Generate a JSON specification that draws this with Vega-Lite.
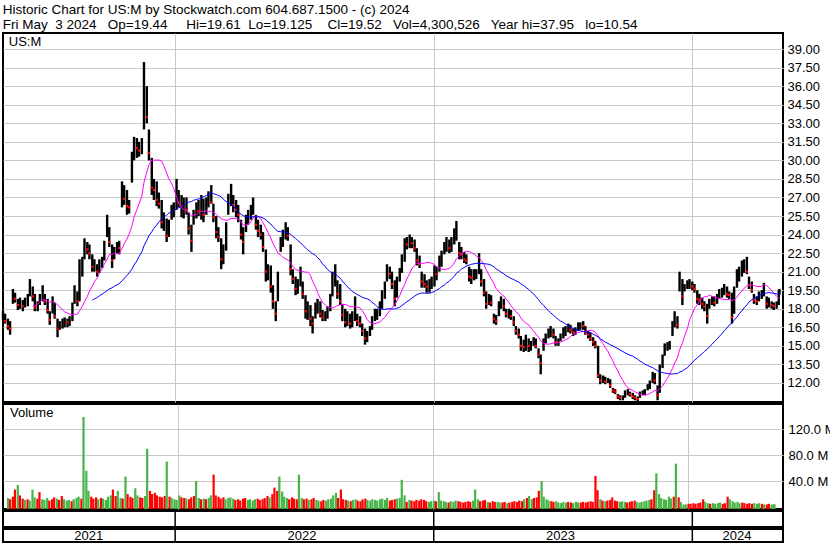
{
"$schema":"https://vega.github.io/schema/vega-lite/v6.json",
"background":"white",
"padding":{"left":0,"top":3,"right":0,"bottom":0},
"spacing":2,
"bounds":"flush",
"title":{"text":"Historic Chart for US:M by Stockwatch.com 604.687.1500 - (c) 2024","subtitle":"Fri May\u00a0 3 2024\u00a0\u00a0 Op=19.44\u00a0\u00a0\u00a0\u00a0 Hi=19.61\u00a0 Lo=19.125\u00a0\u00a0\u00a0 Cl=19.52\u00a0\u00a0 Vol=4,300,526\u00a0\u00a0 Year hi=37.95\u00a0\u00a0 lo=10.54","anchor":"start","font":"Liberation Sans","fontSize":13.5,"fontWeight":"normal","color":"black","subtitleFont":"Liberation Sans","subtitleFontSize":13.5,"subtitleColor":"black","subtitlePadding":1,"offset":1,"dx":2},
"datasets":{
"px":[
{"d":"2021-05-03","h":17.8,"l":17.1,"c":17.4,"v":14},{"d":"2021-05-06","h":17.6,"l":16.8,"c":17.0,"v":12},
{"d":"2021-05-10","h":17.2,"l":16.3,"c":16.6,"v":16},{"d":"2021-05-13","h":17.0,"l":15.9,"c":16.4,"v":27},
{"d":"2021-05-17","h":19.6,"l":18.4,"c":19.2,"v":34},{"d":"2021-05-20","h":19.3,"l":18.5,"c":18.8,"v":18},
{"d":"2021-05-24","h":18.8,"l":17.9,"c":18.3,"v":13},{"d":"2021-05-27","h":18.9,"l":18.0,"c":18.5,"v":11},
{"d":"2021-05-31","h":18.7,"l":17.8,"c":18.2,"v":12},{"d":"2021-06-03","h":18.9,"l":18.1,"c":18.6,"v":10},
{"d":"2021-06-07","h":19.2,"l":18.2,"c":19.0,"v":27},{"d":"2021-06-10","h":20.4,"l":19.0,"c":19.8,"v":15},
{"d":"2021-06-14","h":19.8,"l":18.6,"c":19.0,"v":13},{"d":"2021-06-17","h":19.2,"l":17.8,"c":18.1,"v":23},
{"d":"2021-06-21","h":18.6,"l":17.8,"c":18.3,"v":12},{"d":"2021-06-24","h":19.2,"l":18.3,"c":18.9,"v":11},
{"d":"2021-06-28","h":19.9,"l":18.6,"c":19.1,"v":14},{"d":"2021-07-01","h":19.2,"l":18.3,"c":18.6,"v":10},
{"d":"2021-07-05","h":18.8,"l":17.6,"c":17.9,"v":12},{"d":"2021-07-08","h":17.8,"l":16.7,"c":17.1,"v":15},
{"d":"2021-07-12","h":19.0,"l":17.6,"c":18.6,"v":13},{"d":"2021-07-15","h":18.5,"l":17.2,"c":17.4,"v":11},
{"d":"2021-07-19","h":17.2,"l":15.7,"c":16.4,"v":17},{"d":"2021-07-22","h":17.0,"l":16.3,"c":16.6,"v":12},
{"d":"2021-07-26","h":17.2,"l":16.4,"c":16.8,"v":10},{"d":"2021-07-29","h":17.3,"l":16.5,"c":17.0,"v":11},
{"d":"2021-08-02","h":17.2,"l":16.5,"c":16.9,"v":9},{"d":"2021-08-05","h":17.4,"l":16.6,"c":17.1,"v":12},
{"d":"2021-08-09","h":18.5,"l":17.0,"c":18.3,"v":14},{"d":"2021-08-12","h":19.9,"l":18.4,"c":19.5,"v":16},
{"d":"2021-08-16","h":19.4,"l":18.2,"c":18.6,"v":13},{"d":"2021-08-19","h":22.0,"l":18.6,"c":21.6,"v":139},
{"d":"2021-08-23","h":22.2,"l":20.6,"c":21.9,"v":56},{"d":"2021-08-26","h":23.7,"l":22.0,"c":23.2,"v":25},
{"d":"2021-08-30","h":23.4,"l":22.4,"c":22.8,"v":16},{"d":"2021-09-02","h":23.2,"l":22.0,"c":22.5,"v":13},
{"d":"2021-09-06","h":22.4,"l":21.0,"c":21.4,"v":15},{"d":"2021-09-09","h":22.0,"l":21.0,"c":21.6,"v":12},
{"d":"2021-09-13","h":21.6,"l":20.6,"c":21.0,"v":14},{"d":"2021-09-16","h":22.0,"l":20.9,"c":21.6,"v":13},
{"d":"2021-09-20","h":22.2,"l":21.3,"c":21.9,"v":11},{"d":"2021-09-23","h":23.5,"l":21.9,"c":23.2,"v":16},
{"d":"2021-09-27","h":25.6,"l":23.8,"c":24.9,"v":18},{"d":"2021-09-30","h":24.6,"l":23.0,"c":23.4,"v":27},
{"d":"2021-10-04","h":23.2,"l":21.3,"c":21.9,"v":17},{"d":"2021-10-07","h":23.0,"l":22.0,"c":22.6,"v":25},
{"d":"2021-10-11","h":23.4,"l":22.5,"c":23.0,"v":14},{"d":"2021-10-14","h":23.5,"l":22.4,"c":22.9,"v":13},
{"d":"2021-10-18","h":28.3,"l":26.2,"c":27.6,"v":47},{"d":"2021-10-21","h":28.0,"l":26.4,"c":26.9,"v":20},
{"d":"2021-10-25","h":27.6,"l":25.6,"c":26.3,"v":16},{"d":"2021-10-28","h":26.8,"l":25.7,"c":26.2,"v":14},
{"d":"2021-11-01","h":30.7,"l":28.2,"c":30.2,"v":29},{"d":"2021-11-04","h":31.9,"l":30.0,"c":31.4,"v":18},
{"d":"2021-11-08","h":31.8,"l":30.2,"c":31.0,"v":15},{"d":"2021-11-11","h":31.5,"l":30.3,"c":30.8,"v":14},
{"d":"2021-11-15","h":31.8,"l":30.5,"c":31.5,"v":17},{"d":"2021-11-18","h":37.95,"l":32.5,"c":36.5,"v":90},
{"d":"2021-11-22","h":36.0,"l":33.0,"c":33.5,"v":25},{"d":"2021-11-25","h":32.5,"l":30.0,"c":30.6,"v":20},
{"d":"2021-11-29","h":30.2,"l":27.2,"c":27.8,"v":22},{"d":"2021-12-02","h":28.5,"l":26.8,"c":27.6,"v":18},
{"d":"2021-12-06","h":28.3,"l":26.3,"c":26.8,"v":16},{"d":"2021-12-09","h":27.4,"l":26.1,"c":26.5,"v":15},
{"d":"2021-12-13","h":26.8,"l":24.5,"c":25.0,"v":17},{"d":"2021-12-16","h":25.8,"l":24.3,"c":25.4,"v":70},
{"d":"2021-12-20","h":25.3,"l":23.4,"c":23.9,"v":16},{"d":"2021-12-23","h":25.2,"l":23.8,"c":24.8,"v":14},
{"d":"2021-12-27","h":26.4,"l":25.2,"c":25.9,"v":12},{"d":"2021-12-30","h":26.6,"l":25.4,"c":26.0,"v":11},
{"d":"2022-01-03","h":28.5,"l":26.0,"c":27.4,"v":18},{"d":"2022-01-06","h":27.6,"l":26.2,"c":26.6,"v":15},
{"d":"2022-01-10","h":27.2,"l":25.4,"c":26.3,"v":14},{"d":"2022-01-13","h":27.0,"l":25.3,"c":26.4,"v":13},
{"d":"2022-01-17","h":27.0,"l":25.6,"c":26.0,"v":12},{"d":"2022-01-20","h":25.8,"l":24.0,"c":24.5,"v":15},
{"d":"2022-01-24","h":24.8,"l":22.6,"c":23.5,"v":17},{"d":"2022-01-27","h":26.0,"l":24.8,"c":25.6,"v":40},
{"d":"2022-01-31","h":26.6,"l":25.3,"c":26.1,"v":14},{"d":"2022-02-03","h":26.8,"l":25.5,"c":25.9,"v":12},
{"d":"2022-02-07","h":27.2,"l":25.2,"c":26.4,"v":13},{"d":"2022-02-10","h":26.9,"l":25.0,"c":25.6,"v":12},
{"d":"2022-02-14","h":27.0,"l":25.6,"c":26.5,"v":14},{"d":"2022-02-17","h":27.5,"l":26.2,"c":27.0,"v":18},
{"d":"2022-02-21","h":28.0,"l":26.5,"c":26.6,"v":50},{"d":"2022-02-24","h":26.5,"l":25.0,"c":25.4,"v":18},
{"d":"2022-02-28","h":25.5,"l":23.7,"c":24.2,"v":16},{"d":"2022-03-03","h":24.6,"l":23.4,"c":23.8,"v":13},
{"d":"2022-03-07","h":23.7,"l":21.2,"c":22.0,"v":15},{"d":"2022-03-10","h":23.2,"l":21.6,"c":22.8,"v":12},
{"d":"2022-03-14","h":25.0,"l":22.7,"c":24.6,"v":14},{"d":"2022-03-17","h":27.3,"l":25.6,"c":26.8,"v":15},
{"d":"2022-03-21","h":28.1,"l":26.3,"c":27.1,"v":13},{"d":"2022-03-24","h":27.2,"l":25.8,"c":26.4,"v":11},
{"d":"2022-03-28","h":26.8,"l":25.4,"c":26.0,"v":12},{"d":"2022-03-31","h":26.4,"l":25.0,"c":25.6,"v":10},
{"d":"2022-04-04","h":25.2,"l":23.6,"c":24.0,"v":13},{"d":"2022-04-07","h":24.6,"l":22.4,"c":23.4,"v":14},
{"d":"2022-04-11","h":25.6,"l":24.2,"c":25.1,"v":11},{"d":"2022-04-14","h":26.0,"l":24.8,"c":25.6,"v":12},
{"d":"2022-04-18","h":26.4,"l":25.2,"c":25.9,"v":10},{"d":"2022-04-21","h":27.0,"l":25.6,"c":26.3,"v":12},
{"d":"2022-04-25","h":25.6,"l":24.4,"c":24.8,"v":13},{"d":"2022-04-28","h":25.2,"l":23.8,"c":24.3,"v":11},
{"d":"2022-05-02","h":24.8,"l":23.6,"c":24.0,"v":12},{"d":"2022-05-05","h":24.2,"l":22.6,"c":23.0,"v":14},
{"d":"2022-05-09","h":22.8,"l":20.2,"c":21.0,"v":17},{"d":"2022-05-12","h":21.6,"l":20.3,"c":21.2,"v":15},
{"d":"2022-05-16","h":21.5,"l":19.3,"c":19.8,"v":20},{"d":"2022-05-19","h":19.9,"l":18.0,"c":18.6,"v":30},
{"d":"2022-05-23","h":18.6,"l":17.0,"c":17.6,"v":25},{"d":"2022-05-26","h":21.0,"l":18.6,"c":20.6,"v":47},
{"d":"2022-05-30","h":23.8,"l":22.6,"c":23.3,"v":24},{"d":"2022-06-02","h":24.4,"l":23.0,"c":23.7,"v":16},
{"d":"2022-06-06","h":25.0,"l":23.6,"c":24.5,"v":14},{"d":"2022-06-09","h":24.6,"l":23.5,"c":23.9,"v":12},
{"d":"2022-06-13","h":23.2,"l":20.7,"c":21.2,"v":15},{"d":"2022-06-16","h":21.2,"l":20.0,"c":20.4,"v":13},
{"d":"2022-06-20","h":20.6,"l":19.1,"c":19.6,"v":12},{"d":"2022-06-23","h":20.4,"l":19.2,"c":20.0,"v":50},
{"d":"2022-06-27","h":21.4,"l":19.8,"c":20.6,"v":14},{"d":"2022-06-30","h":20.2,"l":18.8,"c":19.2,"v":12},
{"d":"2022-07-04","h":19.1,"l":17.2,"c":17.8,"v":13},{"d":"2022-07-07","h":18.6,"l":17.1,"c":17.9,"v":11},
{"d":"2022-07-11","h":18.3,"l":16.6,"c":17.2,"v":12},{"d":"2022-07-14","h":17.4,"l":16.0,"c":16.8,"v":14},
{"d":"2022-07-18","h":18.5,"l":17.2,"c":18.1,"v":11},{"d":"2022-07-21","h":18.8,"l":17.6,"c":18.3,"v":10},
{"d":"2022-07-25","h":18.6,"l":17.3,"c":17.6,"v":9},{"d":"2022-07-28","h":17.9,"l":17.0,"c":17.3,"v":11},
{"d":"2022-08-01","h":17.8,"l":17.0,"c":17.5,"v":10},{"d":"2022-08-04","h":18.2,"l":17.2,"c":17.8,"v":12},
{"d":"2022-08-08","h":19.2,"l":17.8,"c":18.8,"v":13},{"d":"2022-08-11","h":21.0,"l":19.0,"c":20.4,"v":18},
{"d":"2022-08-15","h":21.6,"l":19.8,"c":20.5,"v":22},{"d":"2022-08-18","h":20.3,"l":18.8,"c":19.2,"v":14},
{"d":"2022-08-22","h":20.0,"l":18.3,"c":18.6,"v":27},{"d":"2022-08-25","h":18.4,"l":17.0,"c":17.5,"v":12},
{"d":"2022-08-29","h":18.0,"l":16.5,"c":16.9,"v":11},{"d":"2022-09-01","h":17.8,"l":16.6,"c":17.3,"v":10},
{"d":"2022-09-05","h":17.6,"l":16.4,"c":16.8,"v":9},{"d":"2022-09-08","h":17.8,"l":16.5,"c":17.4,"v":11},
{"d":"2022-09-12","h":19.0,"l":17.0,"c":17.6,"v":12},{"d":"2022-09-15","h":17.6,"l":16.6,"c":17.0,"v":10},
{"d":"2022-09-19","h":17.4,"l":16.5,"c":16.8,"v":9},{"d":"2022-09-22","h":16.8,"l":15.8,"c":16.2,"v":12},
{"d":"2022-09-26","h":16.4,"l":15.1,"c":15.6,"v":13},{"d":"2022-09-29","h":16.2,"l":15.3,"c":15.8,"v":11},
{"d":"2022-10-03","h":16.6,"l":15.8,"c":16.3,"v":10},{"d":"2022-10-06","h":17.4,"l":16.3,"c":17.0,"v":12},
{"d":"2022-10-10","h":18.0,"l":17.0,"c":17.6,"v":11},{"d":"2022-10-13","h":18.0,"l":17.1,"c":17.8,"v":10},
{"d":"2022-10-17","h":18.6,"l":17.4,"c":18.2,"v":12},{"d":"2022-10-20","h":19.5,"l":18.0,"c":19.2,"v":13},
{"d":"2022-10-24","h":20.2,"l":18.8,"c":19.8,"v":11},{"d":"2022-10-27","h":21.6,"l":20.2,"c":21.0,"v":14},
{"d":"2022-10-31","h":21.4,"l":20.4,"c":20.8,"v":10},{"d":"2022-11-03","h":21.0,"l":19.6,"c":20.0,"v":11},
{"d":"2022-11-07","h":20.3,"l":18.2,"c":18.8,"v":12},{"d":"2022-11-10","h":20.6,"l":18.9,"c":20.2,"v":13},
{"d":"2022-11-14","h":21.3,"l":20.2,"c":21.0,"v":14},{"d":"2022-11-17","h":22.4,"l":20.9,"c":22.0,"v":42},
{"d":"2022-11-21","h":23.7,"l":21.8,"c":23.3,"v":18},{"d":"2022-11-24","h":23.8,"l":22.8,"c":23.2,"v":8},
{"d":"2022-11-28","h":24.0,"l":22.9,"c":23.4,"v":11},{"d":"2022-12-01","h":23.8,"l":22.9,"c":23.3,"v":10},
{"d":"2022-12-05","h":23.6,"l":22.6,"c":22.9,"v":9},{"d":"2022-12-08","h":22.9,"l":21.5,"c":21.9,"v":11},
{"d":"2022-12-12","h":22.3,"l":21.3,"c":21.6,"v":10},{"d":"2022-12-15","h":21.0,"l":19.7,"c":20.2,"v":12},
{"d":"2022-12-19","h":20.8,"l":19.7,"c":20.0,"v":11},{"d":"2022-12-22","h":20.3,"l":19.3,"c":19.8,"v":9},
{"d":"2022-12-26","h":20.4,"l":19.3,"c":19.9,"v":8},{"d":"2022-12-29","h":20.6,"l":19.6,"c":20.2,"v":9},
{"d":"2023-01-02","h":21.5,"l":19.8,"c":21.0,"v":10},{"d":"2023-01-05","h":21.4,"l":20.3,"c":20.8,"v":9},
{"d":"2023-01-09","h":22.3,"l":21.0,"c":21.8,"v":23},{"d":"2023-01-12","h":22.7,"l":21.4,"c":22.2,"v":10},
{"d":"2023-01-16","h":23.4,"l":22.4,"c":23.0,"v":9},{"d":"2023-01-19","h":23.8,"l":22.6,"c":23.2,"v":8},
{"d":"2023-01-23","h":23.6,"l":22.5,"c":22.9,"v":7},{"d":"2023-01-26","h":23.8,"l":22.6,"c":23.4,"v":9},
{"d":"2023-01-30","h":24.5,"l":23.2,"c":24.0,"v":8},{"d":"2023-02-02","h":25.1,"l":23.5,"c":24.3,"v":10},
{"d":"2023-02-06","h":23.4,"l":22.0,"c":22.5,"v":9},{"d":"2023-02-09","h":23.0,"l":22.0,"c":22.4,"v":8},
{"d":"2023-02-13","h":22.6,"l":21.7,"c":22.0,"v":7},{"d":"2023-02-16","h":22.4,"l":21.6,"c":21.9,"v":8},
{"d":"2023-02-20","h":21.4,"l":20.2,"c":20.6,"v":9},{"d":"2023-02-23","h":21.2,"l":20.0,"c":20.5,"v":8},
{"d":"2023-02-27","h":21.2,"l":20.3,"c":20.8,"v":10},{"d":"2023-03-02","h":21.2,"l":20.4,"c":21.0,"v":27},
{"d":"2023-03-06","h":22.5,"l":20.8,"c":21.2,"v":12},{"d":"2023-03-09","h":21.2,"l":19.8,"c":20.2,"v":9},
{"d":"2023-03-13","h":20.4,"l":19.0,"c":19.3,"v":10},{"d":"2023-03-16","h":19.4,"l":18.0,"c":18.4,"v":11},
{"d":"2023-03-20","h":19.2,"l":18.3,"c":18.8,"v":8},{"d":"2023-03-23","h":19.1,"l":18.2,"c":18.5,"v":7},
{"d":"2023-03-27","h":17.6,"l":16.8,"c":17.2,"v":9},{"d":"2023-03-30","h":17.5,"l":16.7,"c":17.0,"v":8},
{"d":"2023-04-03","h":18.6,"l":17.4,"c":18.2,"v":8},{"d":"2023-04-06","h":19.0,"l":18.0,"c":18.6,"v":7},
{"d":"2023-04-10","h":18.8,"l":17.8,"c":18.2,"v":7},{"d":"2023-04-13","h":18.0,"l":17.3,"c":17.6,"v":8},
{"d":"2023-04-17","h":18.0,"l":17.2,"c":17.7,"v":6},{"d":"2023-04-20","h":17.9,"l":17.1,"c":17.4,"v":7},
{"d":"2023-04-24","h":17.4,"l":16.6,"c":16.9,"v":8},{"d":"2023-04-27","h":16.6,"l":15.9,"c":16.2,"v":9},
{"d":"2023-05-01","h":16.4,"l":15.6,"c":15.9,"v":8},{"d":"2023-05-04","h":15.8,"l":14.6,"c":15.0,"v":10},
{"d":"2023-05-08","h":15.5,"l":14.5,"c":14.9,"v":9},{"d":"2023-05-11","h":15.9,"l":14.6,"c":15.4,"v":12},
{"d":"2023-05-15","h":15.6,"l":14.5,"c":15.0,"v":14},{"d":"2023-05-18","h":15.4,"l":14.6,"c":15.1,"v":17},
{"d":"2023-05-22","h":15.7,"l":15.0,"c":15.4,"v":12},{"d":"2023-05-25","h":15.6,"l":14.8,"c":15.0,"v":14},
{"d":"2023-05-29","h":14.8,"l":14.0,"c":14.3,"v":15},{"d":"2023-06-01","h":14.3,"l":12.7,"c":13.6,"v":25},
{"d":"2023-06-05","h":15.6,"l":14.6,"c":15.3,"v":40},{"d":"2023-06-08","h":16.0,"l":15.2,"c":15.8,"v":16},
{"d":"2023-06-12","h":16.4,"l":15.6,"c":16.1,"v":12},{"d":"2023-06-15","h":16.6,"l":15.7,"c":16.2,"v":10},
{"d":"2023-06-19","h":16.4,"l":15.6,"c":15.9,"v":9},{"d":"2023-06-22","h":15.8,"l":15.0,"c":15.3,"v":8},
{"d":"2023-06-26","h":15.6,"l":15.0,"c":15.4,"v":9},{"d":"2023-06-29","h":16.0,"l":15.4,"c":15.8,"v":7},
{"d":"2023-07-03","h":16.5,"l":15.6,"c":16.2,"v":6},{"d":"2023-07-06","h":16.6,"l":15.8,"c":16.4,"v":8},
{"d":"2023-07-10","h":16.8,"l":16.1,"c":16.5,"v":7},{"d":"2023-07-13","h":16.7,"l":16.0,"c":16.3,"v":8},
{"d":"2023-07-17","h":16.4,"l":15.8,"c":16.1,"v":7},{"d":"2023-07-20","h":16.5,"l":15.9,"c":16.3,"v":6},
{"d":"2023-07-24","h":16.9,"l":16.2,"c":16.6,"v":8},{"d":"2023-07-27","h":16.9,"l":16.3,"c":16.7,"v":7},
{"d":"2023-07-31","h":17.0,"l":16.3,"c":16.6,"v":7},{"d":"2023-08-03","h":16.6,"l":15.9,"c":16.1,"v":8},
{"d":"2023-08-07","h":16.2,"l":15.6,"c":15.9,"v":7},{"d":"2023-08-10","h":16.1,"l":15.4,"c":15.6,"v":8},
{"d":"2023-08-14","h":15.7,"l":15.0,"c":15.3,"v":9},{"d":"2023-08-17","h":15.4,"l":14.8,"c":15.0,"v":8},
{"d":"2023-08-21","h":15.0,"l":12.4,"c":12.6,"v":48},{"d":"2023-08-24","h":12.7,"l":11.9,"c":12.2,"v":26},
{"d":"2023-08-28","h":12.6,"l":12.0,"c":12.3,"v":12},{"d":"2023-08-31","h":12.5,"l":11.9,"c":12.1,"v":10},
{"d":"2023-09-04","h":12.4,"l":12.0,"c":12.2,"v":9},{"d":"2023-09-07","h":12.3,"l":11.6,"c":11.8,"v":10},
{"d":"2023-09-11","h":11.6,"l":11.2,"c":11.4,"v":11},{"d":"2023-09-14","h":11.5,"l":11.1,"c":11.3,"v":15},
{"d":"2023-09-18","h":11.1,"l":10.7,"c":10.9,"v":10},{"d":"2023-09-21","h":11.0,"l":10.6,"c":10.8,"v":9},
{"d":"2023-09-25","h":11.0,"l":10.6,"c":10.8,"v":8},{"d":"2023-09-28","h":11.4,"l":10.8,"c":11.2,"v":9},
{"d":"2023-10-02","h":11.5,"l":11.0,"c":11.3,"v":8},{"d":"2023-10-05","h":11.3,"l":10.9,"c":11.1,"v":7},
{"d":"2023-10-09","h":11.2,"l":10.7,"c":10.9,"v":8},{"d":"2023-10-12","h":11.0,"l":10.6,"c":10.8,"v":9},
{"d":"2023-10-16","h":10.9,"l":10.54,"c":10.7,"v":10},{"d":"2023-10-19","h":11.3,"l":10.8,"c":11.1,"v":8},
{"d":"2023-10-23","h":11.4,"l":11.0,"c":11.2,"v":7},{"d":"2023-10-26","h":11.5,"l":11.0,"c":11.3,"v":8},
{"d":"2023-10-30","h":11.9,"l":11.4,"c":11.7,"v":9},{"d":"2023-11-02","h":12.2,"l":11.5,"c":12.0,"v":10},
{"d":"2023-11-06","h":12.9,"l":12.0,"c":12.6,"v":11},{"d":"2023-11-09","h":12.8,"l":11.9,"c":12.2,"v":12},
{"d":"2023-11-13","h":11.8,"l":10.6,"c":11.0,"v":26},{"d":"2023-11-16","h":13.5,"l":11.2,"c":13.2,"v":52},
{"d":"2023-11-20","h":14.3,"l":13.2,"c":14.0,"v":20},{"d":"2023-11-23","h":15.2,"l":14.2,"c":14.9,"v":14},
{"d":"2023-11-27","h":15.3,"l":14.6,"c":15.0,"v":12},{"d":"2023-11-30","h":15.4,"l":14.7,"c":15.2,"v":11},
{"d":"2023-12-04","h":17.0,"l":15.8,"c":16.7,"v":16},{"d":"2023-12-07","h":17.8,"l":16.5,"c":17.2,"v":13},
{"d":"2023-12-11","h":17.4,"l":16.4,"c":16.7,"v":16},{"d":"2023-12-14","h":21.0,"l":19.4,"c":20.2,"v":67},
{"d":"2023-12-18","h":20.4,"l":18.3,"c":19.0,"v":15},{"d":"2023-12-21","h":20.0,"l":19.4,"c":19.8,"v":8},
{"d":"2023-12-25","h":20.3,"l":19.6,"c":20.0,"v":4},{"d":"2023-12-28","h":20.4,"l":19.6,"c":20.1,"v":4},
{"d":"2024-01-01","h":20.2,"l":19.5,"c":19.8,"v":5},{"d":"2024-01-04","h":20.0,"l":19.3,"c":19.6,"v":5},
{"d":"2024-01-08","h":19.5,"l":18.4,"c":18.8,"v":6},{"d":"2024-01-11","h":19.2,"l":18.3,"c":18.7,"v":5},
{"d":"2024-01-15","h":18.9,"l":18.0,"c":18.4,"v":6},{"d":"2024-01-18","h":18.6,"l":17.8,"c":18.2,"v":7},
{"d":"2024-01-22","h":18.4,"l":16.8,"c":17.4,"v":12},{"d":"2024-01-25","h":18.8,"l":18.0,"c":18.5,"v":8},
{"d":"2024-01-29","h":19.0,"l":18.3,"c":18.6,"v":6},{"d":"2024-02-01","h":19.0,"l":18.2,"c":18.5,"v":5},
{"d":"2024-02-05","h":19.2,"l":18.4,"c":18.9,"v":6},{"d":"2024-02-08","h":19.6,"l":18.8,"c":19.3,"v":5},
{"d":"2024-02-12","h":19.7,"l":18.9,"c":19.4,"v":6},{"d":"2024-02-15","h":20.0,"l":19.1,"c":19.6,"v":7},
{"d":"2024-02-19","h":19.8,"l":18.9,"c":19.2,"v":5},{"d":"2024-02-22","h":19.4,"l":18.8,"c":19.1,"v":6},
{"d":"2024-02-26","h":19.3,"l":16.8,"c":17.3,"v":16},{"d":"2024-02-29","h":19.8,"l":17.6,"c":19.5,"v":12},
{"d":"2024-03-04","h":21.2,"l":19.7,"c":20.8,"v":9},{"d":"2024-03-07","h":21.4,"l":20.2,"c":20.9,"v":7},
{"d":"2024-03-11","h":21.9,"l":20.6,"c":21.4,"v":8},{"d":"2024-03-14","h":22.0,"l":20.9,"c":21.5,"v":6},
{"d":"2024-03-18","h":22.2,"l":20.8,"c":21.0,"v":7},{"d":"2024-03-21","h":20.6,"l":19.6,"c":19.9,"v":6},
{"d":"2024-03-25","h":20.2,"l":19.3,"c":19.5,"v":5},{"d":"2024-03-28","h":19.2,"l":18.4,"c":18.7,"v":6},
{"d":"2024-04-01","h":19.0,"l":18.3,"c":18.6,"v":5},{"d":"2024-04-04","h":19.4,"l":18.6,"c":19.1,"v":6},
{"d":"2024-04-08","h":19.5,"l":18.8,"c":19.2,"v":5},{"d":"2024-04-11","h":20.1,"l":19.0,"c":19.4,"v":6},
{"d":"2024-04-15","h":19.0,"l":18.0,"c":18.4,"v":5},{"d":"2024-04-18","h":18.9,"l":18.1,"c":18.5,"v":4},
{"d":"2024-04-22","h":18.6,"l":18.0,"c":18.3,"v":4},{"d":"2024-04-25","h":18.5,"l":17.9,"c":18.2,"v":5},
{"d":"2024-04-29","h":18.6,"l":18.0,"c":18.3,"v":4},{"d":"2024-05-02","h":19.5,"l":18.3,"c":19.2,"v":4},
{"d":"2024-05-03","h":19.61,"l":19.125,"c":19.52,"v":4.3}
],
"yr":[{"b":"2022-01-01"},{"b":"2023-01-01"},{"b":"2024-01-01"}],
"lbl":[{"t":"2021","m":"2021-09-01"},{"t":"2022","m":"2022-06-29"},{"t":"2023","m":"2023-06-29"},{"t":"2024","m":"2024-03-04"}]
},
"vconcat":[
{
"width":780,"height":369,
"data":{"name":"px"},
"title":{"text":"US:M","anchor":"start","font":"Liberation Sans","fontSize":13,"fontWeight":"normal","color":"black","offset":-16,"dx":7},
"encoding":{"x":{"field":"d","type":"temporal","scale":{"domain":[{"year":2021,"month":5,"date":3},{"year":2024,"month":5,"date":8}]},"axis":{"values":[{"year":2022,"month":1,"date":1},{"year":2023,"month":1,"date":1},{"year":2024,"month":1,"date":1}],"grid":true,"labels":false,"ticks":false,"domain":false,"title":null}}},
"layer":[
{"mark":{"type":"rule","color":"black","strokeWidth":2.4},
 "encoding":{"y":{"field":"l","type":"quantitative","scale":{"domain":[10.46,40.3],"nice":false,"zero":false},"axis":{"orient":"right","values":[12,13.5,15,16.5,18,19.5,21,22.5,24,25.5,27,28.5,30,31.5,33,34.5,36,37.5,39],"tickCount":40,"format":".2f","grid":true,"labelPadding":4,"labelOverlap":false,"title":null}},"y2":{"field":"h"}}},
{"transform":[{"window":[{"op":"lag","field":"c","as":"pc"}],"sort":[{"field":"d"}]},{"filter":"datum.pc != null && datum.c < datum.pc"}],
 "mark":{"type":"square","color":"#ff0000","size":5,"opacity":1},
 "encoding":{"y":{"field":"c","type":"quantitative","axis":{"title":null}}}},
{"transform":[{"window":[{"op":"mean","field":"c","as":"m1"},{"op":"row_number","as":"rn"}],"frame":[-12,0],"sort":[{"field":"d"}]},{"filter":"datum.rn >= 13"}],
 "mark":{"type":"line","color":"#ff00ff","strokeWidth":1},
 "encoding":{"y":{"field":"m1","type":"quantitative","axis":{"title":null}}}},
{"transform":[{"window":[{"op":"mean","field":"c","as":"m2"},{"op":"row_number","as":"rn"}],"frame":[-36,0],"sort":[{"field":"d"}]},{"filter":"datum.rn >= 37"}],
 "mark":{"type":"line","color":"#0000ff","strokeWidth":1},
 "encoding":{"y":{"field":"m2","type":"quantitative","axis":{"title":null}}}}
]
},
{
"width":780,"height":105,
"data":{"name":"px"},
"title":{"text":"Volume","anchor":"start","font":"Liberation Sans","fontSize":13,"fontWeight":"normal","color":"black","offset":-16,"dx":7},
"transform":[{"window":[{"op":"lag","field":"c","as":"pc"}],"sort":[{"field":"d"}]}],
"mark":{"type":"bar","width":2.2},
"encoding":{
 "x":{"field":"d","type":"temporal","scale":{"domain":[{"year":2021,"month":5,"date":3},{"year":2024,"month":5,"date":8}]},"axis":{"values":[{"year":2022,"month":1,"date":1},{"year":2023,"month":1,"date":1},{"year":2024,"month":1,"date":1}],"grid":true,"labels":false,"ticks":false,"domain":false,"title":null}},
 "y":{"field":"v","type":"quantitative","scale":{"domain":[-3,159],"nice":false,"zero":false},"axis":{"orient":"right","values":[40,80,120],"tickCount":10,"labelExpr":"format(datum.value, '.1f') + ' M'","grid":true,"labelPadding":5,"labelOverlap":false,"title":null}},
 "y2":{"datum":-3},
 "color":{"condition":{"test":"datum.c >= datum.pc","value":"#46b446"},"value":"#ff0000"}
}
},
{
"width":780,"height":16,
"data":{"name":"yr"},
"mark":{"type":"rule","color":"black","strokeWidth":1.5},
"encoding":{"x":{"field":"b","type":"temporal","scale":{"domain":[{"year":2021,"month":5,"date":3},{"year":2024,"month":5,"date":8}]},"axis":null}}
},
{
"width":780,"height":13,
"layer":[
{"data":{"name":"yr"},"mark":{"type":"rule","color":"black","strokeWidth":1.5},
 "encoding":{"x":{"field":"b","type":"temporal","scale":{"domain":[{"year":2021,"month":5,"date":3},{"year":2024,"month":5,"date":8}]},"axis":null}}},
{"data":{"name":"lbl"},"mark":{"type":"text","font":"Liberation Sans","fontSize":13,"color":"black","baseline":"middle"},
 "encoding":{"x":{"field":"m","type":"temporal","axis":null},"text":{"field":"t"}}}
]
}
],
"config":{
 "view":{"stroke":"black","strokeWidth":2},
 "axis":{"labelFont":"Liberation Sans","labelFontSize":13,"labelColor":"black","gridColor":"#c8c8c8","gridOpacity":1,"domain":false,"ticks":false}
}
}
